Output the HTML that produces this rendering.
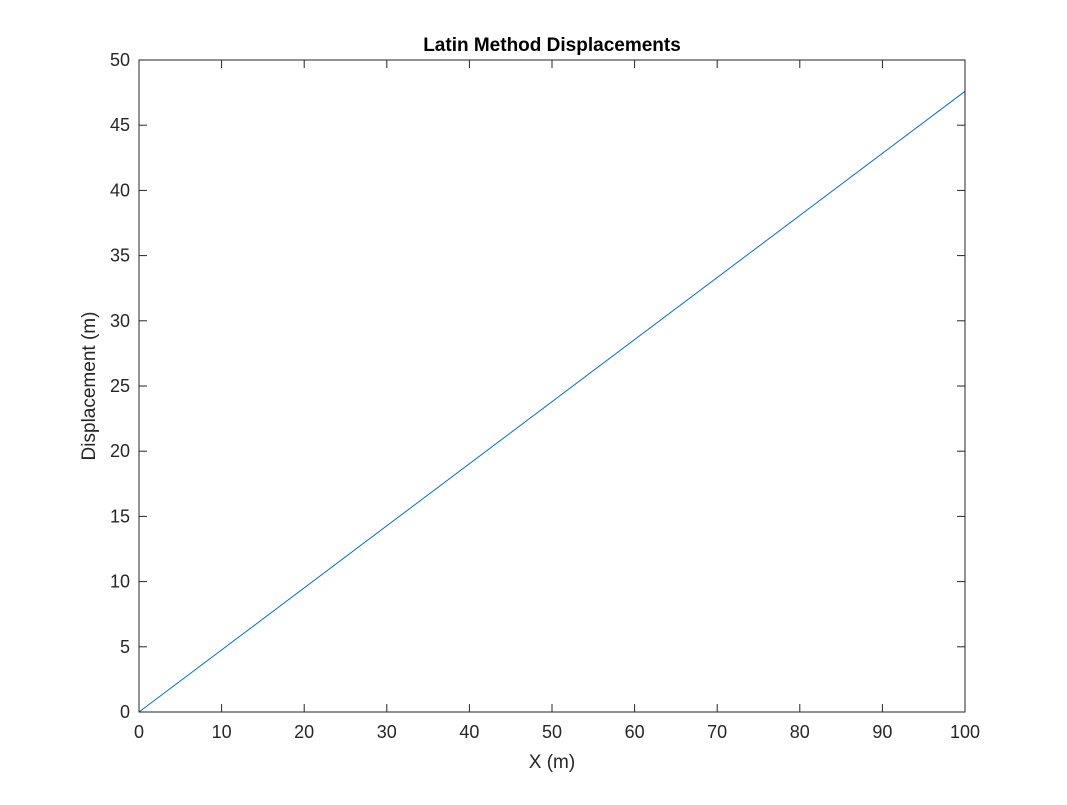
<!DOCTYPE html>
<html><head><meta charset="utf-8"><style>
body{margin:0;background:#fff;}
svg text{font-family:"Liberation Sans",Arial,sans-serif;fill:#262626;}
</style></head><body>
<svg id="chart" width="1067" height="800">
<rect width="1067" height="800" fill="#fff"/>
<g id="ticks"></g>
<polyline id="series" fill="none" stroke="#0072BD" stroke-width="1"/>
<rect x="139" y="60" width="826" height="652" fill="none" stroke="#262626" stroke-width="1"/>
<text x="552" y="51" text-anchor="middle" font-size="19" font-weight="bold" style="fill:#000">Latin Method Displacements</text>
<text x="552" y="768" text-anchor="middle" font-size="19">X (m)</text>
<text transform="translate(95,386) rotate(-90)" text-anchor="middle" font-size="19">Displacement (m)</text>
</svg>
<script>
const xTicks=[0,10,20,30,40,50,60,70,80,90,100];
const yTicks=[0,5,10,15,20,25,30,35,40,45,50];
const xData=[0,100];
const yData=[0,47.6];
const L=139,R=965,T=60,B=712;
const sx=v=>L+(v-0)/(100-0)*(R-L);
const sy=v=>B-(v-0)/(50-0)*(B-T);
const ns="http://www.w3.org/2000/svg";
const g=document.getElementById('ticks');
function mk(tag,a){const e=document.createElementNS(ns,tag);for(const k in a)e.setAttribute(k,a[k]);g.appendChild(e);return e;}
xTicks.forEach(v=>{const x=sx(v);
 let t=mk('line',{x1:x,x2:x,y1:B,y2:B-8,stroke:'#262626'});
 
 
 t=mk('line',{x1:x,x2:x,y1:T,y2:T+8,stroke:'#262626'});
 
 
 const l=mk('text',{x:x,y:B+26,'text-anchor':'middle','font-size':18});l.textContent=v;
 
 });
yTicks.forEach(v=>{const y=sy(v);
 let t=mk('line',{x1:L,x2:L+8,y1:y,y2:y,stroke:'#262626'});
 
 
 t=mk('line',{x1:R,x2:R-8,y1:y,y2:y,stroke:'#262626'});
 
 
 const l=mk('text',{x:L-9,y:y+6,'text-anchor':'end','font-size':18});l.textContent=v;
 
 });
document.getElementById('series').setAttribute('points',xData.map((x,i)=>sx(x)+','+sy(yData[i])).join(' '));
</script>
</body></html>
